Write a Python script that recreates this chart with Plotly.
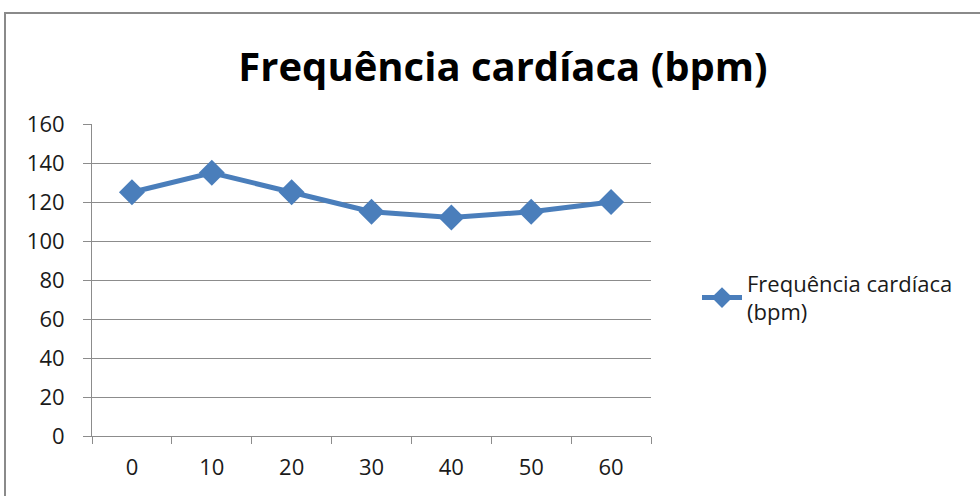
import plotly.graph_objects as go

# Heart rate readings over time (minutes)
minutes = ["0", "10", "20", "30", "40", "50", "60"]
bpm = [125, 135, 125, 115, 112, 115, 120]
series_name = "Frequência cardíaca<br>(bpm)"
title_text = "Frequência cardíaca (bpm)"

BLUE = "#4A7EBB"
GRID = "#8C8C8C"
TEXT = "#1a1a1a"
FONT = "Open Sans"

# plot-area geometry in pixels
L, R, T, B = 92, 651, 124, 436
W, H = 980, 496


def px_x(px):
    return (px - L) / (R - L)


def px_y(py):
    return (B - py) / (B - T)


fig = go.Figure()
fig.add_trace(go.Scatter(
    x=minutes, y=bpm, name=series_name, mode="lines+markers",
    line=dict(color=BLUE, width=5),
    marker=dict(symbol="diamond", size=20, color=BLUE),
))

fig.update_layout(
    width=W, height=H,
    margin=dict(l=L, r=W - R, t=T, b=H - B, pad=0),
    paper_bgcolor="white", plot_bgcolor="white",
    font=dict(family=FONT, color=TEXT, size=23),
    title=dict(text="<b>" + title_text + "</b>", x=px_x(503), xref="paper",
               xanchor="center", y=1 - 67 / H, yanchor="middle",
               font=dict(size=40, family=FONT, color="black")),
    showlegend=True,
    legend=dict(x=px_x(697), xanchor="left", y=px_y(298), yanchor="middle",
                font=dict(size=22, family=FONT, color=TEXT),
                bgcolor="rgba(0,0,0,0)", itemwidth=40),
    xaxis=dict(type="category", tickson="boundaries", showgrid=False,
               showline=True, linecolor=GRID, linewidth=1,
               ticks="outside", ticklen=7, tickcolor=GRID,
               range=[-0.5, 6.5], tickfont=dict(size=22),
               ticklabelstandoff=12, fixedrange=True),
    yaxis=dict(range=[0, 160], dtick=20, showgrid=True, gridcolor=GRID,
               gridwidth=1, showline=True, linecolor=GRID, linewidth=1,
               ticks="outside", ticklen=8, tickcolor=GRID, zeroline=False,
               tickfont=dict(size=22), ticklabelstandoff=14),
)

# outer chart frame
fig.add_shape(type="rect", xref="paper", yref="paper",
              x0=px_x(5), x1=px_x(990), y0=px_y(510), y1=px_y(13),
              line=dict(color="#8a8a8a", width=2), layer="below")

fig.write_html("out.html")
